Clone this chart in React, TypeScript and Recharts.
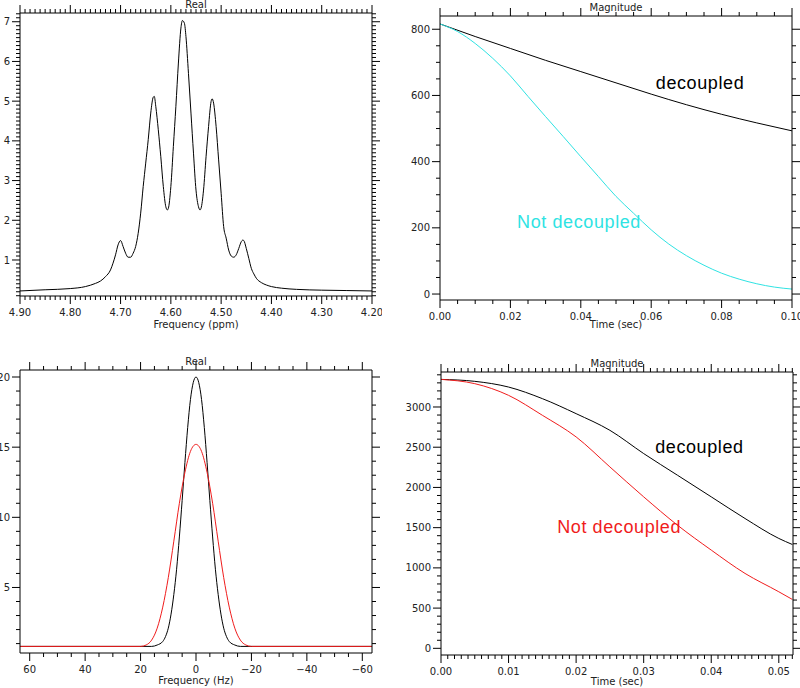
import React from "react";
import { LineChart, Line, XAxis, YAxis, ReferenceDot } from "recharts";

const FONT = "'DejaVu Sans', sans-serif";
const NOTE_FONT = "'Liberation Sans', Arial, sans-serif";
const CYAN = "#2fe3e3";
const RED = "#f01c1c";

// top-left: real spectrum (ppm)
const specPpm = [
  4.9, 4.85, 4.8, 4.77, 4.75, 4.74, 4.73, 4.72, 4.715, 4.71, 4.705, 4.7, 4.695, 4.69,
  4.685, 4.68, 4.675, 4.67, 4.665, 4.66, 4.655, 4.65, 4.645, 4.64, 4.635, 4.633, 4.63,
  4.625, 4.62, 4.615, 4.61, 4.607, 4.605, 4.6, 4.595, 4.59, 4.585, 4.58, 4.577, 4.573,
  4.57, 4.565, 4.56, 4.555, 4.55, 4.545, 4.542, 4.54, 4.535, 4.53, 4.525, 4.52, 4.518,
  4.515, 4.51, 4.505, 4.5, 4.495, 4.49, 4.485, 4.48, 4.475, 4.47, 4.465, 4.46, 4.457,
  4.455, 4.45, 4.445, 4.44, 4.435, 4.43, 4.42, 4.41, 4.4, 4.38, 4.35, 4.3, 4.25, 4.2,
];
const specReal = [
  0.22, 0.25, 0.28, 0.33, 0.41, 0.47, 0.58, 0.75, 0.92, 1.13, 1.38, 1.49, 1.34, 1.17,
  1.07, 1.07, 1.17, 1.34, 1.67, 2.18, 2.85, 3.44, 4.03, 4.7, 5.1, 5.12, 4.87,
  4.28, 3.6, 2.85, 2.34, 2.26, 2.3, 2.85, 3.86, 4.87, 5.96, 6.84, 7.03, 6.96,
  6.63, 5.7, 4.7, 3.69, 2.76, 2.34, 2.26, 2.3, 2.76, 3.6, 4.36, 4.99, 5.06,
  4.95, 4.36, 3.52, 2.68, 1.84, 1.55, 1.25, 1.1, 1.07, 1.13, 1.29, 1.46, 1.5,
  1.49, 1.29, 1.04, 0.79, 0.65, 0.54, 0.43, 0.37, 0.33, 0.29, 0.26, 0.24, 0.23, 0.22,
];
const specXTicks = [4.9, 4.8, 4.7, 4.6, 4.5, 4.4, 4.3, 4.2];
const specYTicks = [1, 2, 3, 4, 5, 6, 7];

// top-right: magnitude decay
const decayTimeA = [0, 0.01, 0.02, 0.03, 0.04, 0.05, 0.06, 0.07, 0.08, 0.09, 0.1];
const decayDecoupledA = [816, 778, 742, 706, 672, 638, 604, 572, 543, 517, 493];
const decayTimeB = [
  0, 0.005, 0.01, 0.015, 0.02, 0.025, 0.03, 0.035, 0.04, 0.045, 0.05, 0.055, 0.06, 0.065,
  0.07, 0.075, 0.08, 0.085, 0.09, 0.095, 0.1,
];
const decayCoupledB = [
  816, 793, 757, 712, 659, 597, 536, 476, 415, 355, 295, 244, 194, 151, 116, 87, 63, 45,
  31, 21, 15,
];
const decayXTicks = [0, 0.02, 0.04, 0.06, 0.08, 0.1];
const decayYTicks = [0, 200, 400, 600, 800];

// bottom-left: real spectrum (Hz)
const lineHzBlack = [
  63.5, 16, 14, 12, 11, 10, 9, 8, 7, 6, 5, 4, 3, 2, 1, 0, -1, -2, -3, -4, -5, -6, -7, -8,
  -9, -10, -11, -12, -14, -16, -63.5,
];
const lineBlack = [
  0.8, 0.8, 0.9, 1.15, 1.5, 2.1, 3.1, 4.5, 6.3, 8.6, 11.2, 13.9, 16.4, 18.4, 19.6, 20,
  19.6, 18.4, 16.4, 13.9, 11.2, 8.6, 6.3, 4.5, 3.1, 2.1, 1.5, 1.15, 0.9, 0.8, 0.8,
];
const lineHzRed = [
  63.5, 20, 18, 16, 14, 12, 10, 8, 6, 4, 2, 0, -2, -4, -6, -8, -10, -12, -14, -16, -18,
  -20, -63.5,
];
const lineRed = [
  0.8, 0.8, 0.9, 1.25, 2.1, 3.6, 5.7, 8.3, 11.0, 13.2, 14.7, 15.2, 14.7, 13.2, 11.0, 8.3,
  5.7, 3.6, 2.1, 1.25, 0.9, 0.8, 0.8,
];
const lineXTicks = [60, 40, 20, 0, -20, -40, -60];
const lineYTicks = [5, 10, 15, 20];

// bottom-right: magnitude decay
const fidTime = [0, 0.005, 0.01, 0.015, 0.02, 0.025, 0.03, 0.035, 0.04, 0.045, 0.05, 0.052];
const fidDecoupled = [3343, 3319, 3248, 3104, 2917, 2710, 2421, 2152, 1883, 1614, 1366, 1291];
const fidCoupled = [3343, 3290, 3145, 2897, 2628, 2255, 1883, 1531, 1221, 931, 703, 608];
const fidXTicks = [0, 0.01, 0.02, 0.03, 0.04, 0.05];
const fidYTicks = [0, 500, 1000, 1500, 2000, 2500, 3000];

const toPts = (xs: number[], ys: number[]) => xs.map((x, i) => ({ x, y: ys[i] }));

function minorTicks(domain: number[], step: number) {
  const lo = Math.min(domain[0], domain[1]);
  const hi = Math.max(domain[0], domain[1]);
  const out: number[] = [];
  for (let k = Math.ceil(lo / step - 1e-6); k * step <= hi + 1e-9; k++) {
    out.push(Math.round(k * step * 1e6) / 1e6);
  }
  return out;
}

function AxisTick(props: any) {
  const { x, y, payload, side, majors, step, fmt, labels } = props;
  const v = payload.value;
  const major = majors.some((m: number) => Math.abs(m - v) < step * 0.01);
  const len = major ? 8 : 4;
  let x2 = x;
  let y2 = y;
  if (side === "bottom") y2 = y + len;
  if (side === "top") y2 = y - len;
  if (side === "left") x2 = x - len;
  if (side === "right") x2 = x + len;
  const txt = { fontFamily: FONT, fontSize: 10, fill: "#222" };
  return (
    <g>
      <line x1={x} y1={y} x2={x2} y2={y2} stroke="#000" strokeWidth={1} />
      {major && labels && side === "bottom" && (
        <text x={x} y={y + 20} textAnchor="middle" {...txt}>
          {fmt(v)}
        </text>
      )}
      {major && labels && side === "left" && (
        <text x={x - 10} y={y + 3.6} textAnchor="end" {...txt}>
          {fmt(v)}
        </text>
      )}
    </g>
  );
}

type Series = { data: { x: number; y: number }[]; color: string };
type Note = { x: number; y: number; text: string; color: string };

interface PanelProps {
  plot: number[]; // left, top, right, bottom
  wl: number;
  wr: number;
  ht: number;
  hb: number;
  mb: number;
  xDomain: number[];
  yDomain: number[];
  reversed?: boolean;
  xMajor: number[];
  xStep: number;
  yMajor: number[];
  yStep: number;
  xFmt: (v: number) => string;
  yFmt: (v: number) => string;
  title: string;
  xLabel: string;
  series: Series[];
  notes?: Note[];
}

function Panel(p: PanelProps) {
  const [L, T, R, B] = p.plot;
  const width = R - L + p.wl + p.wr;
  const height = B - T + p.ht + p.hb + p.mb;
  const xTicks = minorTicks(p.xDomain, p.xStep);
  const yTicks = minorTicks(p.yDomain, p.yStep);
  const lbl = { fill: "#222", fontSize: 10, fontFamily: FONT };
  const tick = (side: string, majors: number[], step: number, fmt: any, labels: boolean) =>
    (t: any) => (
      <AxisTick {...t} side={side} majors={majors} step={step} fmt={fmt} labels={labels} />
    );
  return (
    <div style={{ position: "absolute", left: L - p.wl, top: T - p.ht }}>
      <LineChart width={width} height={height} margin={{ top: 0, right: 0, bottom: p.mb, left: 0 }}>
        <XAxis
          dataKey="x"
          type="number"
          domain={p.xDomain}
          allowDataOverflow
          reversed={p.reversed}
          ticks={xTicks}
          interval={0}
          tickLine={false}
          tickSize={0}
          tickMargin={0}
          height={p.hb}
          axisLine={{ stroke: "#000" }}
          tick={tick("bottom", p.xMajor, p.xStep, p.xFmt, true)}
          label={{ value: p.xLabel, position: "insideBottom", offset: 0, ...lbl }}
        />
        <XAxis
          xAxisId="t"
          orientation="top"
          dataKey="x"
          type="number"
          domain={p.xDomain}
          allowDataOverflow
          reversed={p.reversed}
          ticks={xTicks}
          interval={0}
          tickLine={false}
          tickSize={0}
          tickMargin={0}
          height={p.ht}
          axisLine={{ stroke: "#000" }}
          tick={tick("top", p.xMajor, p.xStep, p.xFmt, false)}
          label={{ value: p.title, position: "insideBottom", offset: 5, ...lbl }}
        />
        <YAxis
          type="number"
          domain={p.yDomain}
          allowDataOverflow
          ticks={yTicks}
          interval={0}
          tickLine={false}
          tickSize={0}
          tickMargin={0}
          width={p.wl}
          axisLine={{ stroke: "#000" }}
          tick={tick("left", p.yMajor, p.yStep, p.yFmt, true)}
        />
        <YAxis
          yAxisId="r"
          orientation="right"
          type="number"
          domain={p.yDomain}
          allowDataOverflow
          ticks={yTicks}
          interval={0}
          tickLine={false}
          tickSize={0}
          tickMargin={0}
          width={p.wr}
          axisLine={{ stroke: "#000" }}
          tick={tick("right", p.yMajor, p.yStep, p.yFmt, false)}
        />
        {p.series.map((s, i) => (
          <Line
            key={i}
            data={s.data}
            dataKey="y"
            type="monotone"
            stroke={s.color}
            strokeWidth={1}
            dot={false}
            activeDot={false}
            isAnimationActive={false}
          />
        ))}
        {(p.notes || []).map((n, i) => (
          <ReferenceDot
            key={"n" + i}
            x={n.x}
            y={n.y}
            r={0}
            ifOverflow="visible"
            shape={(sp: any) => (
              <text
                x={sp.cx}
                y={sp.cy}
                fill={n.color}
                fontSize={18}
                fontFamily={NOTE_FONT}
                letterSpacing={0.6}
              >
                {n.text}
              </text>
            )}
          />
        ))}
      </LineChart>
    </div>
  );
}

const fix2 = (v: number) => v.toFixed(2);
const intFmt = (v: number) => String(Math.round(v));
const hzFmt = (v: number) => (v < 0 ? "\u2212" + Math.abs(v) : String(v));

export default function App() {
  return (
    <div
      style={{
        position: "absolute",
        left: 0,
        top: 0,
        width: 800,
        height: 688,
        overflow: "hidden",
        background: "#fff",
      }}
    >
      <Panel
        plot={[20, 13, 372, 296]}
        wl={20}
        wr={10}
        ht={13}
        hb={32}
        mb={6}
        xDomain={[4.2, 4.9]}
        yDomain={[0.093, 7.22]}
        reversed
        xMajor={specXTicks}
        xStep={0.01}
        yMajor={specYTicks}
        yStep={0.1}
        xFmt={fix2}
        yFmt={intFmt}
        title="Real"
        xLabel="Frequency (ppm)"
        series={[{ data: toPts(specPpm, specReal), color: "#000" }]}
      />
      <Panel
        plot={[440, 16, 792, 300]}
        wl={40}
        wr={8}
        ht={16}
        hb={28}
        mb={6}
        xDomain={[0, 0.1]}
        yDomain={[-18, 840]}
        xMajor={decayXTicks}
        xStep={0.005}
        yMajor={decayYTicks}
        yStep={50}
        xFmt={fix2}
        yFmt={intFmt}
        title="Magnitude"
        xLabel="Time (sec)"
        series={[
          { data: toPts(decayTimeA, decayDecoupledA), color: "#000" },
          { data: toPts(decayTimeB, decayCoupledB), color: CYAN },
        ]}
        notes={[
          { x: 0.0613, y: 620, text: "decoupled", color: "#000" },
          { x: 0.0219, y: 199, text: "Not decoupled", color: CYAN },
        ]}
      />
      <Panel
        plot={[20, 370, 372, 653]}
        wl={20}
        wr={10}
        ht={20}
        hb={31}
        mb={4}
        xDomain={[-63.5, 63.5]}
        yDomain={[0.33, 20.5]}
        reversed
        xMajor={lineXTicks}
        xStep={5}
        yMajor={lineYTicks}
        yStep={1}
        xFmt={hzFmt}
        yFmt={intFmt}
        title="Real"
        xLabel="Frequency (Hz)"
        series={[
          { data: toPts(lineHzBlack, lineBlack), color: "#000" },
          { data: toPts(lineHzRed, lineRed), color: RED },
        ]}
      />
      <Panel
        plot={[441, 372, 793, 655]}
        wl={41}
        wr={7}
        ht={22}
        hb={30}
        mb={3}
        xDomain={[0, 0.0521]}
        yDomain={[-83, 3435]}
        xMajor={fidXTicks}
        xStep={0.001}
        yMajor={fidYTicks}
        yStep={100}
        xFmt={fix2}
        yFmt={intFmt}
        title="Magnitude"
        xLabel="Time (sec)"
        series={[
          { data: toPts(fidTime, fidDecoupled), color: "#000" },
          { data: toPts(fidTime, fidCoupled), color: RED },
        ]}
        notes={[
          { x: 0.0317, y: 2429, text: "decoupled", color: "#000" },
          { x: 0.0172, y: 1435, text: "Not decoupled", color: RED },
        ]}
      />
    </div>
  );
}
